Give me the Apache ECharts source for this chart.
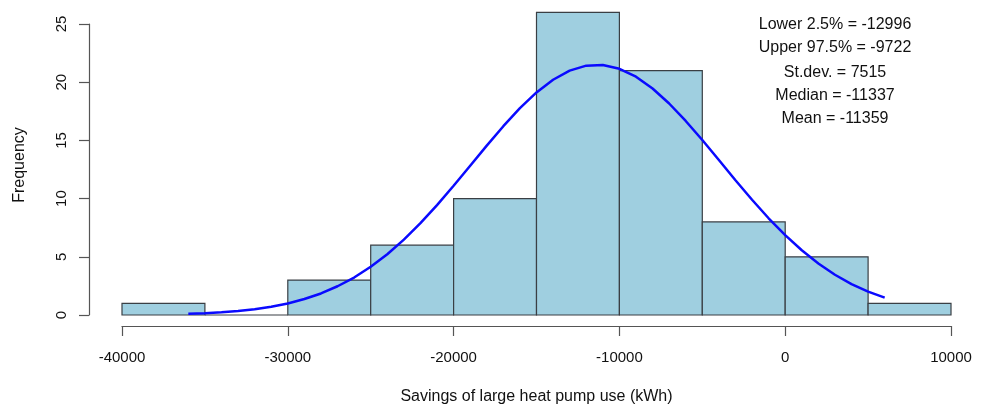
<!DOCTYPE html>
<html>
<head>
<meta charset="utf-8">
<script src="https://cdn.jsdelivr.net/npm/echarts@6/dist/echarts.min.js"></script>
<style>
html,body{margin:0;padding:0;background:#fff;}
#c{width:988px;height:410px;}
</style>
</head>
<body>
<div id="c"></div>
<script>
// Histogram bins (kWh) and counts
var binStarts = [-40000, -35000, -30000, -25000, -20000, -15000, -10000, -5000, 0, 5000];
var binEnds   = [-35000, -30000, -25000, -20000, -15000, -10000, -5000, 0, 5000, 10000];
var counts    = [1, 0, 3, 6, 10, 26, 21, 8, 5, 1];

// Fitted normal curve
var curveX = [-36000,-35000,-34000,-33000,-32000,-31000,-30000,-29000,-28000,-27000,-26000,-25000,-24000,-23000,-22000,-21000,-20000,-19000,-18000,-17000,-16000,-15000,-14000,-13000,-12000,-11000,-10000,-9000,-8000,-7000,-6000,-5000,-4000,-3000,-2000,-1000,0,1000,2000,3000,4000,5000,6000];
var curveY = [0.10,0.15,0.23,0.34,0.49,0.71,0.99,1.37,1.85,2.47,3.22,4.14,5.22,6.48,7.89,9.44,11.10,12.82,14.55,16.22,17.77,19.12,20.21,20.99,21.42,21.48,21.15,20.47,19.46,18.17,16.67,15.03,13.31,11.58,9.90,8.31,6.86,5.56,4.43,3.46,2.66,2.01,1.49];

// Tick values
var xTicks = [-40000, -30000, -20000, -10000, 0, 10000];
var yTicks = [0, 5, 10, 15, 20, 25];

// Annotation lines
var annotations = ["Lower 2.5% = -12996", "Upper 97.5% = -9722", "St.dev. = 7515", "Median = -11337", "Mean = -11359"];

var FONT = '"Liberation Sans", Arial, Helvetica, sans-serif';
var histData = binStarts.map(function (s, i) { return [s, binEnds[i], counts[i]]; });
var curveData = curveX.map(function (x, i) { return [x, curveY[i]]; });

var annY = [25, 48, 73, 96, 119];
var graphics = annotations.map(function (t, i) {
  return {
    type: 'text', x: 835, y: annY[i],
    style: { text: t, font: '16px ' + FONT, fill: '#111', align: 'center', verticalAlign: 'middle' }
  };
});
graphics.push({
  type: 'text', x: 20, y: 165, rotation: Math.PI / 2,
  style: { text: 'Frequency', font: '16px ' + FONT, fill: '#111', align: 'center', verticalAlign: 'middle' }
});

var chart = echarts.init(document.getElementById('c'), null, { renderer: 'canvas' });
chart.setOption({
  animation: false,
  backgroundColor: '#ffffff',
  grid: { left: 122, right: 37, top: 24, bottom: 92, containLabel: false },
  xAxis: {
    type: 'value', min: xTicks[0], max: xTicks[xTicks.length - 1], interval: 10000,
    offset: 11,
    name: 'Savings of large heat pump use (kWh)', nameLocation: 'middle', nameGap: 63,
    nameTextStyle: { fontFamily: FONT, fontSize: 16, color: '#111' },
    axisLine: { show: true, onZero: false, lineStyle: { color: '#555', width: 1.2 } },
    axisTick: { show: true, length: 10, lineStyle: { color: '#555', width: 1.2 } },
    axisLabel: { margin: 24, fontFamily: FONT, fontSize: 15, color: '#111', formatter: function (v) { return String(v); } },
    splitLine: { show: false }
  },
  yAxis: {
    type: 'value', min: yTicks[0], max: yTicks[yTicks.length - 1], interval: 5,
    offset: 33,
    axisLine: { show: true, onZero: false, lineStyle: { color: '#555', width: 1.2 } },
    axisTick: { show: true, length: 10, lineStyle: { color: '#555', width: 1.2 } },
    axisLabel: { rotate: 90, margin: 20, fontFamily: FONT, fontSize: 15, color: '#111', formatter: function (v) { return String(v); } },
    splitLine: { show: false }
  },
  graphic: graphics,
  series: [
    {
      type: 'custom',
      data: histData,
      encode: { x: [0, 1], y: 2 },
      renderItem: function (params, api) {
        var p0 = api.coord([api.value(0), api.value(2)]);
        var p1 = api.coord([api.value(1), 0]);
        return {
          type: 'rect',
          shape: { x: p0[0], y: p0[1], width: p1[0] - p0[0], height: p1[1] - p0[1] },
          style: { fill: '#9fcfe0', stroke: '#3a3f44', lineWidth: 1.2 }
        };
      },
      z: 2
    },
    {
      type: 'line',
      data: curveData,
      smooth: false,
      showSymbol: false,
      symbol: 'none',
      lineStyle: { color: '#0a0aff', width: 2.5 },
      z: 3
    }
  ]
});
</script>
</body>
</html>
